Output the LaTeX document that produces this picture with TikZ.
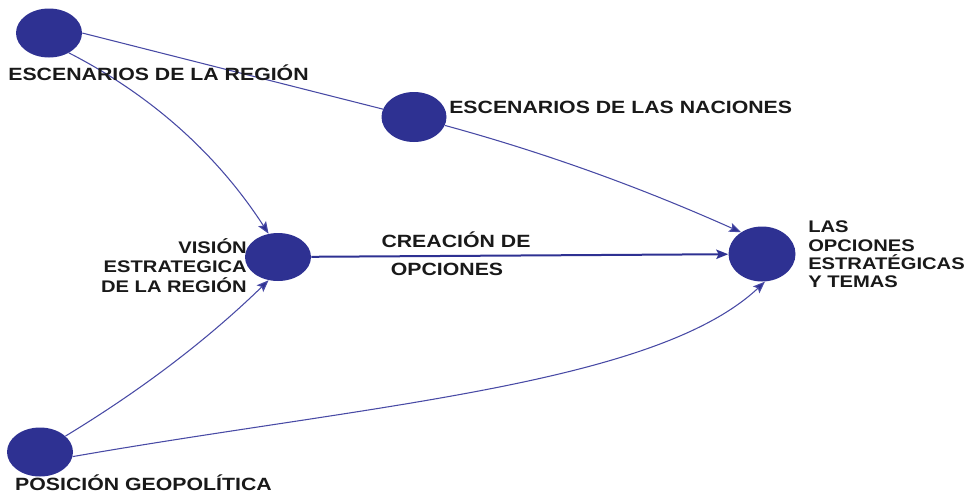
\documentclass[tikz,border=0pt]{standalone}
\usepackage{fontspec}
\setmainfont{Liberation Sans}[FakeStretch=1.2]
\usetikzlibrary{shapes.geometric,arrows.meta}
\definecolor{nodeblue}{RGB}{46,49,146}
\definecolor{edgeblue}{RGB}{72,74,165}
\begin{document}
\begin{tikzpicture}[x=0.75pt,y=-0.75pt,
  dot/.style={ellipse,fill=nodeblue,draw=none,inner sep=0pt},
  lbl/.style={font=\bfseries\fontsize{13.3}{14.6}\selectfont,inner sep=0pt,text=black!90},
  lblsmall/.style={font=\bfseries\fontsize{12.6}{14.6}\selectfont,inner sep=0pt,text=black!90},
  link/.style={draw=edgeblue,line width=0.8pt},
  tip/.style={-{Stealth[length=9pt,width=7pt,inset=1.8pt,fill=nodeblue]}},
]
\useasboundingbox (0,0) rectangle (974,493);
% nodes
\node[dot,minimum width=49.5pt,minimum height=36.75pt] (er) at (49,33) {};
\node[dot,minimum width=48.75pt,minimum height=37.5pt] (en) at (414,117) {};
\node[dot,minimum width=49.5pt,minimum height=36pt] (ve) at (278,257) {};
\node[dot,minimum width=50.25pt,minimum height=41.25pt] (lo) at (762,254) {};
\node[dot,minimum width=49.5pt,minimum height=36.75pt] (pg) at (40,452) {};
% connectors
\draw[link] (er.east) -- (en);
\draw[link,tip] (er.-45) .. controls (151,95) and (217,154) .. (ve.112);
\draw[link,tip] (en) .. controls (546,153) and (642,188) .. (lo.134);
\draw[link,tip,line width=1.5pt,draw=nodeblue] (ve) -- (lo);
\draw[link,tip] (pg.32) .. controls (138,392) and (204,343) .. (ve.-112);
\draw[link,tip] (pg.-8) .. controls (368,405) and (655,385) .. (lo.-84);
% labels
\node[lbl,anchor=base] (erl) at (158.5,80) {ESCENARIOS DE LA REGIÓN};
\node[lbl,anchor=base west] (enl) at (449,113) {ESCENARIOS DE LAS NACIONES};
\node[lblsmall,anchor=east,align=right] (vel) at (247,265.5) {VISIÓN\\ESTRATEGICA\\DE LA REGIÓN};
\node[lbl,anchor=base] (cr1) at (456,247) {CREACIÓN DE};
\node[lbl,anchor=base] (cr2) at (447,275) {OPCIONES};
\node[lblsmall,anchor=west,align=left,font=\bfseries\fontsize{12.6}{13.7}\selectfont] (lol) at (808,254.5) {LAS\\OPCIONES\\ESTRATÉGICAS\\Y TEMAS};
\node[lbl,anchor=base] (pgl) at (143.5,490.5) {POSICIÓN GEOPOLÍTICA};
\end{tikzpicture}
\end{document}
